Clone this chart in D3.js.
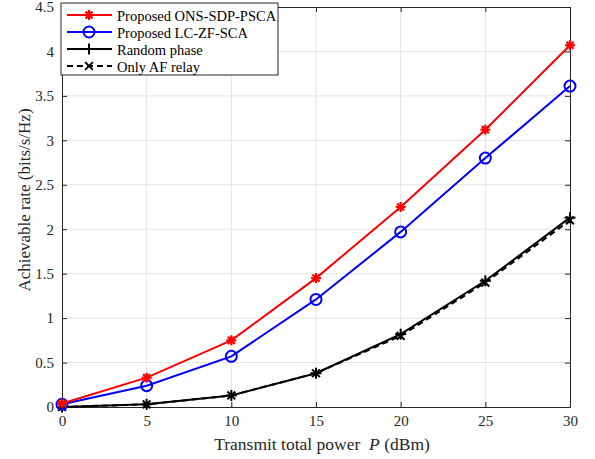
<!DOCTYPE html>
<html>
<script src="https://d3js.org/d3.v7.min.js"></script>

<head>
    <style>
        body {
            margin: 0;
            background-color: #fff;
            font-family: "Liberation Serif", "Times New Roman", serif;
        }

        svg {
            display: block;
        }
    </style>
</head>

<body>
</body>
<script>
    const width = 595,
        height = 459;

    // data
    const power = [0, 5, 10, 15, 20, 25, 30];
    const onsSdpPsca = [0.04, 0.33, 0.75, 1.45, 2.25, 3.12, 4.07];
    const lcZfSca = [0.03, 0.24, 0.57, 1.21, 1.97, 2.80, 3.61];
    const randomPhase = [0.0, 0.03, 0.13, 0.38, 0.82, 1.42, 2.13];
    const onlyAf = [0.0, 0.03, 0.13, 0.38, 0.80, 1.40, 2.10];
    const xTicks = [0, 5, 10, 15, 20, 25, 30];
    const yTicks = [0, 0.5, 1, 1.5, 2, 2.5, 3, 3.5, 4, 4.5];

    const series = [
        { name: "Proposed ONS-SDP-PSCA", values: onsSdpPsca, color: "#ff0000", marker: "star", dash: null },
        { name: "Proposed LC-ZF-SCA", values: lcZfSca, color: "#0000ff", marker: "circle", dash: null },
        { name: "Random phase", values: randomPhase, color: "#000000", marker: "plus", dash: null },
        { name: "Only AF relay", values: onlyAf, color: "#000000", marker: "cross", dash: "6,4" }
    ];

    const margin = { left: 62, right: 25, top: 7, bottom: 52 };
    const x = d3.scaleLinear().domain([0, 30]).range([margin.left, width - margin.right]);
    const y = d3.scaleLinear().domain([0, 4.5]).range([height - margin.bottom, margin.top]);

    const svg = d3.select("body").append("svg").attr("width", width).attr("height", height);

    // grid
    svg.append("g").selectAll("line.gx")
        .data(xTicks.slice(1, -1))
        .join("line")
        .attr("x1", d => x(d)).attr("x2", d => x(d))
        .attr("y1", y(0)).attr("y2", y(4.5))
        .attr("stroke", "#e3e3e3").attr("stroke-width", 1);
    svg.append("g").selectAll("line.gy")
        .data(yTicks.slice(1, -1))
        .join("line")
        .attr("x1", x(0)).attr("x2", x(30))
        .attr("y1", d => y(d)).attr("y2", d => y(d))
        .attr("stroke", "#e3e3e3").attr("stroke-width", 1);

    // axes (ticks inward, box)
    const fmt = d => String(d);
    svg.append("g")
        .attr("transform", `translate(0,${y(0)})`)
        .call(d3.axisBottom(x).tickValues(xTicks).tickFormat(fmt).tickSize(-5).tickPadding(8).tickSizeOuter(0));
    svg.append("g")
        .attr("transform", `translate(${x(0)},0)`)
        .call(d3.axisLeft(y).tickValues(yTicks).tickFormat(fmt).tickSize(-5).tickPadding(8).tickSizeOuter(0));
    svg.append("g")
        .attr("transform", `translate(0,${y(4.5)})`)
        .call(d3.axisTop(x).tickValues(xTicks).tickSize(-5).tickFormat("").tickSizeOuter(0));
    svg.append("g")
        .attr("transform", `translate(${x(30)},0)`)
        .call(d3.axisRight(y).tickValues(yTicks).tickSize(-5).tickFormat("").tickSizeOuter(0));
    svg.selectAll(".domain, .tick line").attr("stroke", "#262626");
    svg.selectAll(".tick text")
        .attr("font-family", "Liberation Serif")
        .attr("font-size", 15)
        .attr("fill", "#262626");

    // markers
    function drawMarker(g, kind, color, cx, cy) {
        if (kind === "circle") {
            g.append("circle").attr("cx", cx).attr("cy", cy).attr("r", 5.5)
                .attr("fill", "none").attr("stroke", color).attr("stroke-width", 2);
        } else {
            let angles = [];
            if (kind === "plus") angles = [0, 90];
            if (kind === "cross") angles = [45, 135];
            if (kind === "star") angles = [0, 45, 90, 135];
            const r = kind === "star" ? 5 : 5.5;
            angles.forEach(a => {
                const t = a * Math.PI / 180;
                g.append("line")
                    .attr("x1", cx - r * Math.cos(t)).attr("y1", cy - r * Math.sin(t))
                    .attr("x2", cx + r * Math.cos(t)).attr("y2", cy + r * Math.sin(t))
                    .attr("stroke", color).attr("stroke-width", kind === "star" ? 2.2 : 2);
            });
            if (kind === "star") {
                g.append("circle").attr("cx", cx).attr("cy", cy).attr("r", 2.8).attr("fill", color);
            }
        }
    }

    const line = d3.line().x((d, i) => x(power[i])).y(d => y(d));

    // draw bottom-up so red sits on top
    series.slice().reverse().forEach(s => {
        const g = svg.append("g");
        g.append("path")
            .datum(s.values)
            .attr("d", line)
            .attr("fill", "none")
            .attr("stroke", s.color)
            .attr("stroke-width", 2)
            .attr("stroke-dasharray", s.dash);
        s.values.forEach((v, i) => drawMarker(g, s.marker, s.color, x(power[i]), y(v)));
    });

    // legend
    const lg = svg.append("g").attr("transform", "translate(61,3)");
    lg.append("rect").attr("width", 217).attr("height", 72)
        .attr("fill", "#fff").attr("stroke", "#262626").attr("stroke-width", 1);
    series.forEach((s, i) => {
        const ly = 12 + i * 17;
        lg.append("line")
            .attr("x1", 6).attr("x2", 51).attr("y1", ly).attr("y2", ly)
            .attr("stroke", s.color).attr("stroke-width", 2)
            .attr("stroke-dasharray", s.dash);
        drawMarker(lg, s.marker, s.color, 28, ly);
        lg.append("text")
            .attr("x", 56).attr("y", ly + 1)
            .attr("dominant-baseline", "central")
            .attr("font-size", 14.5)
            .attr("fill", "#000")
            .text(s.name);
    });

    // axis labels
    const xl = svg.append("text")
        .attr("x", x(15) + 6).attr("y", 450)
        .attr("text-anchor", "middle")
        .attr("font-size", 17.5)
        .attr("fill", "#262626")
        .attr("xml:space", "preserve")
        .style("white-space", "pre");
    xl.append("tspan").text("Transmit total power  ");
    xl.append("tspan").attr("font-style", "italic").text("P");
    xl.append("tspan").text(" (dBm)");

    svg.append("text")
        .attr("transform", `translate(30,200) rotate(-90)`)
        .attr("text-anchor", "middle")
        .attr("font-size", 17)
        .attr("fill", "#262626")
        .text("Achievable rate (bits/s/Hz)");
</script>

</html>
